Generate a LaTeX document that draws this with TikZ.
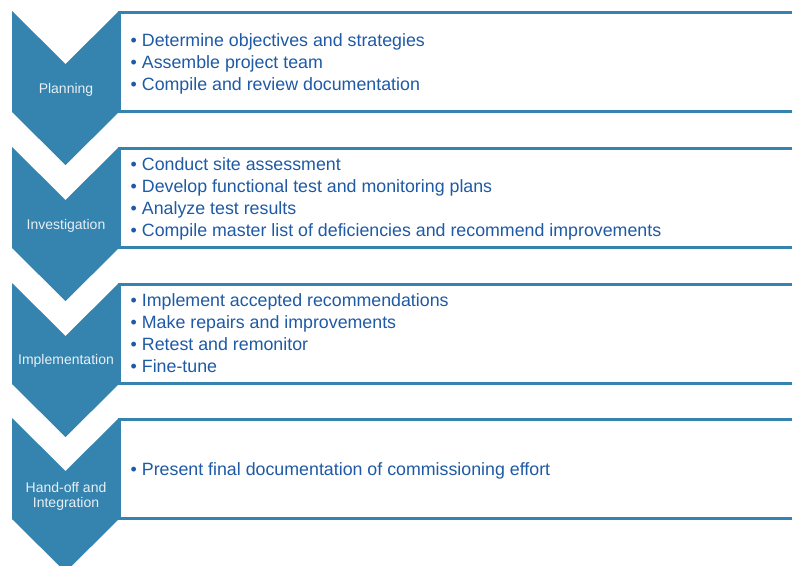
\documentclass[tikz,border=0pt]{standalone}
\usepackage{fontspec}
\setmainfont{Liberation Sans}
\definecolor{chev}{RGB}{52,132,175}
\definecolor{txtblue}{RGB}{30,90,165}
\definecolor{lbl}{RGB}{232,239,245}
\tikzset{
  chevron/.style={fill=chev, draw=none},
  stagebox/.style={draw=chev, line width=3pt, fill=white},
  item/.style={anchor=base west, inner sep=0pt, text=txtblue, font=\fontsize{17.8}{22}\selectfont},
  stagelabel/.style={anchor=base, inner sep=0pt, text=lbl, align=center, font=\fontsize{14}{15}\selectfont},
}
\newcommand{\itm}[1]{\textbullet\hspace{5pt}#1}
\begin{document}
\begin{tikzpicture}[x=1pt,y=-1pt]
\useasboundingbox (0,0) rectangle (792,565);
\clip (0,0) rectangle (792,565);
% boxes
\foreach \t in {11,147,283,418}{
  \draw[stagebox] (119.5,\t+1.5) rectangle (810,\t+100);
}
% chevrons
\foreach \t in {11,147,283,418}{
  \fill[chevron] (12,\t) -- (65.5,\t+53) -- (119,\t) -- (119,\t+101) -- (65.5,\t+154) -- (12,\t+101) -- cycle;
}
% labels
\node[stagelabel] (l1) at (66,93) {Planning};
\node[stagelabel] (l2) at (66,229) {Investigation};
\node[stagelabel] (l3) at (66,364) {Implementation};
\node[stagelabel] (l4a) at (66,492) {Hand-off and};
\node[stagelabel] (l4b) at (66,507) {Integration};
% items
\node[item] (a1) at (130.5,46) {\itm{Determine objectives and strategies}};
\node[item] (a2) at (130.5,68) {\itm{Assemble project team}};
\node[item] (a3) at (130.5,90) {\itm{Compile and review documentation}};
\node[item] (b1) at (130.5,170) {\itm{Conduct site assessment}};
\node[item] (b2) at (130.5,192) {\itm{Develop functional test and monitoring plans}};
\node[item] (b3) at (130.5,214) {\itm{Analyze test results}};
\node[item] (b4) at (130.5,236) {\itm{Compile master list of deficiencies and recommend improvements}};
\node[item] (c1) at (130.5,306) {\itm{Implement accepted recommendations}};
\node[item] (c2) at (130.5,328) {\itm{Make repairs and improvements}};
\node[item] (c3) at (130.5,350) {\itm{Retest and remonitor}};
\node[item] (c4) at (130.5,372) {\itm{Fine-tune}};
\node[item] (d1) at (130.5,475) {\itm{Present final documentation of commissioning effort}};
\end{tikzpicture}
\end{document}
